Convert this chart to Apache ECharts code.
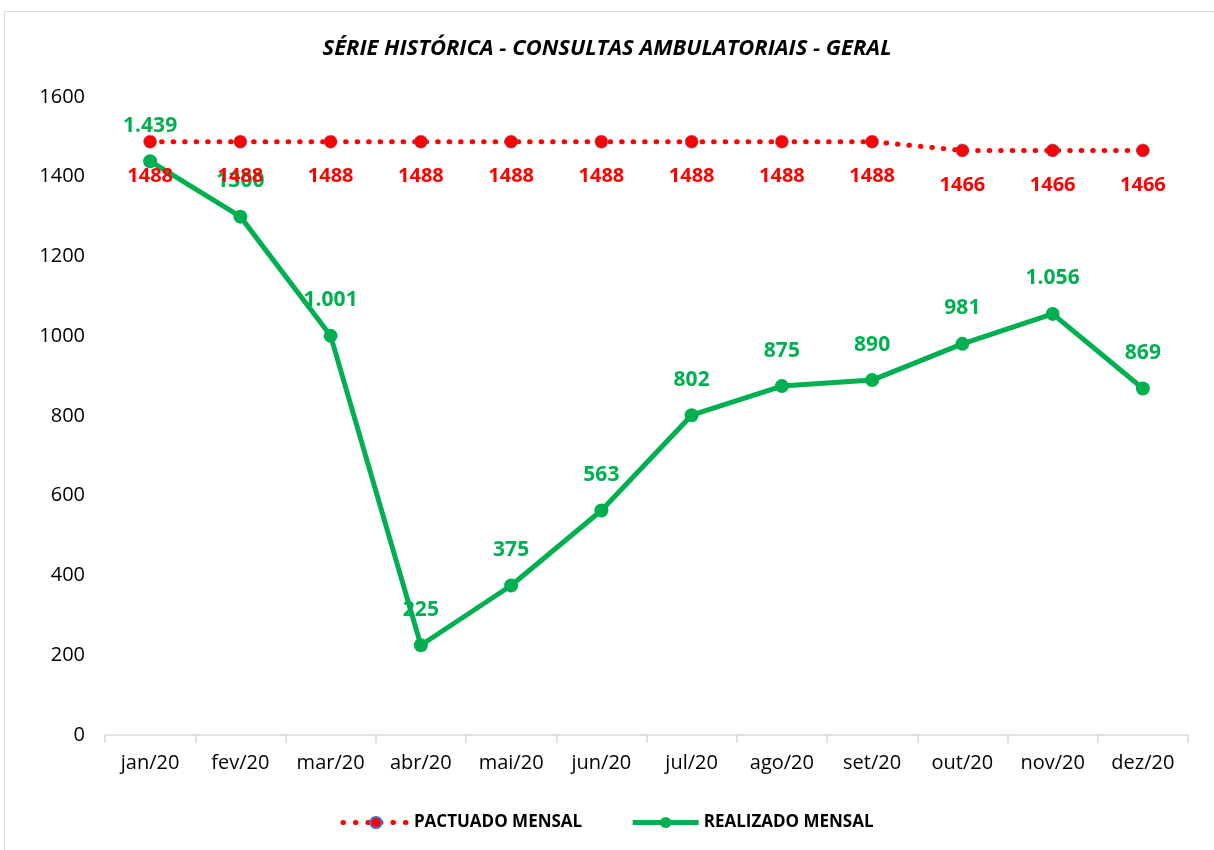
<!DOCTYPE html>
<html>
<head>
<meta charset="utf-8">
<script src="https://cdn.jsdelivr.net/npm/echarts@6/dist/echarts.min.js"></script>
<style>
  html, body { margin: 0; padding: 0; background: #fff; }
  #chart { width: 1214px; height: 850px; }
</style>
</head>
<body>
<div id="chart"></div>
<script>
const categories = ["jan/20", "fev/20", "mar/20", "abr/20", "mai/20", "jun/20", "jul/20", "ago/20", "set/20", "out/20", "nov/20", "dez/20"];
const pactuado = [1488, 1488, 1488, 1488, 1488, 1488, 1488, 1488, 1488, 1466, 1466, 1466];
const realizado = [1439, 1300, 1001, 225, 375, 563, 802, 875, 890, 981, 1056, 869];
const realizadoLabels = ["1.439", "1300", "1.001", "225", "375", "563", "802", "875", "890", "981", "1.056", "869"];
const yTicks = [0, 200, 400, 600, 800, 1000, 1200, 1400, 1600];

const font = "'Open Sans', 'Liberation Sans', sans-serif";
const chart = echarts.init(document.getElementById("chart"), null, { renderer: "canvas" });

chart.setOption({
  animation: false,
  textStyle: { fontFamily: font },
  title: {
    text: "SÉRIE HISTÓRICA - CONSULTAS AMBULATORIAIS - GERAL",
    left: "center",
    top: 33,
    textStyle: { fontSize: 22, fontWeight: "bold", fontStyle: "italic", color: "#000", fontFamily: font }
  },
  graphic: [{
    type: "rect",
    shape: { x: 4.5, y: 11.5, width: 1230, height: 860 },
    style: { fill: "none", stroke: "#d9d9d9", lineWidth: 1 },
    silent: true
  }],
  legend: {
    bottom: 14,
    left: "center",
    itemWidth: 66,
    itemHeight: 14,
    itemGap: 48,
    textStyle: { fontSize: 17, fontWeight: "bold", color: "#000", fontFamily: font },
    data: [
      { name: "PACTUADO MENSAL", lineStyle: { width: 5, color: "#ff0000", type: [0.5, 12], cap: "round" } },
      { name: "REALIZADO MENSAL", lineStyle: { width: 5, color: "#00b050" } }
    ]
  },
  grid: { left: 105, right: 26, top: 97, bottom: 115 },
  xAxis: {
    type: "category",
    data: categories,
    boundaryGap: true,
    axisLine: { lineStyle: { color: "#d9d9d9", width: 1.5 } },
    axisTick: { show: true, length: 8, lineStyle: { color: "#d9d9d9", width: 1.5 } },
    axisLabel: { color: "#000", fontSize: 20, margin: 18, fontFamily: font }
  },
  yAxis: {
    type: "value",
    min: 0,
    max: 1600,
    interval: 200,
    axisLine: { show: false },
    axisTick: { show: false },
    splitLine: { show: false },
    axisLabel: {
      color: "#000", fontSize: 20, margin: 20, fontFamily: font,
      formatter: (v) => yTicks.includes(v) ? String(v) : ""
    }
  },
  series: [
    {
      name: "PACTUADO MENSAL",
      type: "line",
      data: pactuado,
      symbol: "circle",
      symbolSize: 13,
      lineStyle: { color: "#ff0000", width: 5, type: [0.5, 11], cap: "round" },
      itemStyle: { color: "#ff0000", borderColor: "#4472c4", borderWidth: 1, borderType: "dotted" },
      label: {
        show: true,
        position: "bottom",
        distance: 18,
        color: "#ff0000",
        fontSize: 20,
        fontWeight: "bold",
        fontFamily: font
      },
      z: 3
    },
    {
      name: "REALIZADO MENSAL",
      type: "line",
      data: realizado,
      symbol: "circle",
      symbolSize: 14,
      lineStyle: { color: "#00b050", width: 5 },
      itemStyle: { color: "#00b050" },
      label: {
        show: true,
        position: "top",
        distance: 18,
        color: "#00b050",
        fontSize: 21,
        fontWeight: "bold",
        fontFamily: font,
        formatter: (p) => realizadoLabels[p.dataIndex]
      },
      z: 2
    }
  ]
});
</script>
</body>
</html>
